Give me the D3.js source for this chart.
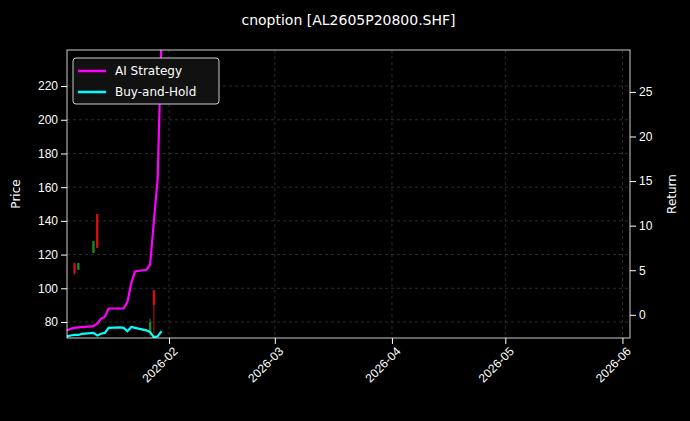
<!DOCTYPE html>
<html><head><meta charset="utf-8">
<script src="https://cdn.jsdelivr.net/npm/d3@7"></script>
<style>body{margin:0;background:#000}svg{font-family:"DejaVu Sans",sans-serif}</style>
</head><body><div id="chart"></div>
<script>
const dates = ['2026-01-05','2026-01-06','2026-01-07','2026-01-08','2026-01-09','2026-01-12','2026-01-13','2026-01-14','2026-01-15','2026-01-16',
  '2026-01-19','2026-01-20','2026-01-21','2026-01-22','2026-01-23','2026-01-26','2026-01-27','2026-01-28','2026-01-29','2026-01-30']
const strategy = [75,76,76.5,76.8,77,77.5,79,82,83,88,88,88,92,103,110,111,114,140,165,250]
const buyHold = [71.5,72,72.3,72.3,73,73.5,72,73,73.5,76.5,76.8,76.5,74.5,77,76.5,75,74,71,71.5,74.5]
// candles: date, open, high, low, close
const candles = [
  ['2026-01-07',115,115,108,109],['2026-01-08',111,115,111,115],
  ['2026-01-12',121,128,121,128],['2026-01-13',144,144,124,124],
  ['2026-01-27',74,82,72,80],['2026-01-28',99,99,73,90]
]
const priceTicks = [80,100,120,140,160,180,200,220]
const returnTicks = [0,5,10,15,20,25]
const dateTicks = ['2026-02-01','2026-03-01','2026-04-01','2026-05-01','2026-06-01']

const W = 690, H = 421
const m = { top: 50, left: 67, right: 60, bottom: 83 }
const width = W - m.left - m.right, height = H - m.top - m.bottom
const parse = d3.timeParse('%Y-%m-%d')

const svg = d3.select('#chart').append('svg').attr('width', W).attr('height', H)
  .style('background', '#000')
const g = svg.append('g').attr('transform', `translate(${m.left},${m.top})`)

const x = d3.scaleTime().domain([parse('2026-01-05'), parse('2026-06-03')]).range([0, width])
const y = d3.scaleLinear().domain([70.5, 241.4]).range([height, 0])
const y2 = d3.scaleLinear().domain([-2.6, 29.7]).range([height, 0])

// grid
g.selectAll('.gx').data(dateTicks).enter().append('line')
  .attr('x1', d => x(parse(d))).attr('x2', d => x(parse(d))).attr('y1', 0).attr('y2', height)
  .attr('stroke', '#4a4a4a').attr('stroke-dasharray', '3,3').attr('stroke-width', 0.6)
g.selectAll('.gy').data(priceTicks).enter().append('line')
  .attr('x1', 0).attr('x2', width).attr('y1', d => y(d)).attr('y2', d => y(d))
  .attr('stroke', '#4a4a4a').attr('stroke-dasharray', '3,3').attr('stroke-width', 0.6)

g.append('clipPath').attr('id', 'clip').append('rect').attr('width', width).attr('height', height)
const plot = g.append('g').attr('clip-path', 'url(#clip)')

plot.selectAll('.wick').data(candles).enter().append('line')
  .attr('x1', d => x(parse(d[0]))).attr('x2', d => x(parse(d[0])))
  .attr('y1', d => y(d[2])).attr('y2', d => y(d[3]))
  .attr('stroke', d => d[4] >= d[1] ? '#1a8a1a' : '#d01010').attr('stroke-width', 1)
plot.selectAll('.body').data(candles).enter().append('rect')
  .attr('x', d => x(parse(d[0])) - 1.2).attr('width', 2.4)
  .attr('y', d => y(Math.max(d[1], d[4])))
  .attr('height', d => Math.max(1, Math.abs(y(d[1]) - y(d[4]))))
  .attr('fill', d => d[4] >= d[1] ? '#1a8a1a' : '#d01010')

const line = d3.line().x((d, i) => x(parse(dates[i]))).y(d => y(d))
plot.append('path').datum(strategy).attr('d', line).attr('fill', 'none').attr('stroke', '#ff00ff').attr('stroke-width', 2.2)
plot.append('path').datum(buyHold).attr('d', line).attr('fill', 'none').attr('stroke', '#00ffff').attr('stroke-width', 2.2)

// axes
const xa = g.append('g').attr('transform', `translate(0,${height})`)
  .call(d3.axisBottom(x).tickValues(dateTicks.map(parse)).tickFormat(d3.timeFormat('%Y-%m')).tickSizeOuter(0))
xa.selectAll('text').attr('fill', '#fff').attr('font-size', 12).attr('text-anchor', 'end')
  .attr('transform', 'rotate(-45)').attr('dx', '-0.3em').attr('dy', '0.6em')
const ya = g.append('g').call(d3.axisLeft(y).tickValues(priceTicks).tickSizeOuter(0))
ya.selectAll('text').attr('fill', '#fff').attr('font-size', 12)
const ya2 = g.append('g').attr('transform', `translate(${width},0)`).call(d3.axisRight(y2).tickValues(returnTicks).tickSizeOuter(0))
ya2.selectAll('text').attr('fill', '#fff').attr('font-size', 12)
g.selectAll('.domain').remove()
g.selectAll('.tick line').attr('stroke', '#fff')
g.append('rect').attr('width', width).attr('height', height).attr('fill', 'none').attr('stroke', '#fff').attr('stroke-width', 0.8)

svg.append('text').text('cnoption [AL2605P20800.SHF]').attr('x', m.left + width / 2).attr('y', 25)
  .attr('text-anchor', 'middle').attr('fill', '#fff').attr('font-size', 14)
svg.append('text').text('Price').attr('transform', `translate(20,${m.top + height / 2}) rotate(-90)`)
  .attr('text-anchor', 'middle').attr('fill', '#fff').attr('font-size', 12)
svg.append('text').text('Return').attr('transform', `translate(676,${m.top + height / 2}) rotate(-90)`)
  .attr('text-anchor', 'middle').attr('fill', '#fff').attr('font-size', 12)

// legend
const lg = g.append('g').attr('transform', 'translate(6,8)')
lg.append('rect').attr('width', 146).attr('height', 46).attr('rx', 3).attr('fill', '#111').attr('stroke', '#ccc')
const items = [['AI Strategy', '#ff00ff'], ['Buy-and-Hold', '#00ffff']]
items.forEach((it, i) => {
  lg.append('line').attr('x1', 5).attr('x2', 33).attr('y1', 13 + i * 21).attr('y2', 13 + i * 21).attr('stroke', it[1]).attr('stroke-width', 2.5)
  lg.append('text').text(it[0]).attr('x', 42).attr('y', 17 + i * 21).attr('fill', '#fff').attr('font-size', 12)
})
</script></body></html>
